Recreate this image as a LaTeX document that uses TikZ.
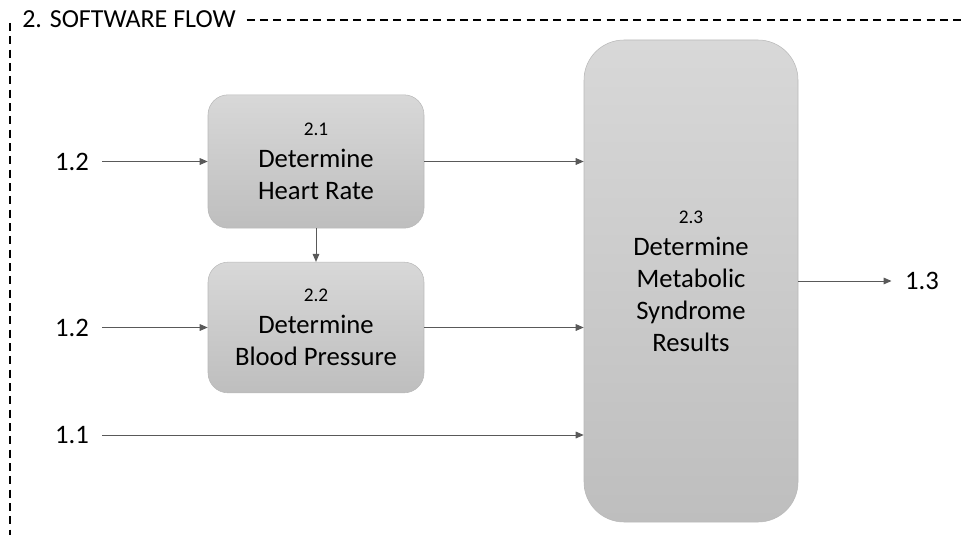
\documentclass[tikz,border=0pt]{standalone}
\usepackage{fontspec}
\setmainfont{Carlito}
\usepackage{xcolor}
\usepackage{tikz}
\usetikzlibrary{arrows.meta,positioning}

\definecolor{linegray}{RGB}{89,89,89}
\definecolor{boxtop}{RGB}{216,216,216}
\definecolor{boxbottom}{RGB}{190,190,190}
\definecolor{boxedge}{RGB}{185,185,185}

\begin{document}
\begin{tikzpicture}[x=0.75pt, y=-0.75pt, >={Triangle[length=6pt,width=5pt]},
  procbox/.style={draw=boxedge, line width=0.4pt, top color=boxtop, bottom color=boxbottom,
    rounded corners=15pt, align=center, inner sep=0pt, font=\fontsize{20}{24}\selectfont},
  flowlabel/.style={inner sep=10pt, font=\fontsize{20}{24}\selectfont},
  flow/.style={->, draw=linegray, fill=linegray, line width=0.75pt},
  framedash/.style={line width=1.5pt, dash pattern=on 6pt off 4pt}]
\useasboundingbox (0,0) rectangle (966,535);

% Software flow frame
\node[anchor=base west, inner sep=0pt, font=\fontsize{19.5}{23}\selectfont] (title) at (22,28) {2. SOFTWARE FLOW};
\coordinate (frametop) at (966,21);
\coordinate (framecorner) at (10,23);
\coordinate (framebottom) at (10,535);
\draw[framedash] ([xshift=8pt]title.east) -- (title.east -| frametop);
\draw[framedash] (framecorner) -- (framebottom);

% Process boxes
\node[procbox, minimum width=162pt, minimum height=100pt] (b21) at (316,161.5)
  {{\fontsize{14.5}{17}\selectfont 2.1}\\Determine\\Heart Rate};
\node[procbox, minimum width=162pt, minimum height=98pt] (b22) at (316,327.5)
  {{\fontsize{14.5}{17}\selectfont 2.2}\\Determine\\Blood Pressure};
\node[procbox, rounded corners=30pt, minimum width=160.5pt, minimum height=361.5pt] (b23) at (691,281)
  {{\fontsize{14.5}{17}\selectfont 2.3}\\Determine\\Metabolic\\Syndrome\\Results};

% Inputs and output
\node[flowlabel] (in12a) at (72,161.5) {1.2};
\node[flowlabel] (in12b) at (72,327.5) {1.2};
\node[flowlabel] (in11) at (72,435) {1.1};
\node[flowlabel] (out13) at (922,281) {1.3};

% Connectors
\draw[flow] (in12a) -- (b21);
\draw[flow] (in12b) -- (b22);
\draw[flow] (in11) -- (in11 -| b23.west);
\draw[flow] (b21) -- (b22);
\draw[flow] (b21.east) -- (b21.east -| b23.west);
\draw[flow] (b22.east) -- (b22.east -| b23.west);
\draw[flow] (b23.east |- out13) -- (out13);
\end{tikzpicture}
\end{document}
